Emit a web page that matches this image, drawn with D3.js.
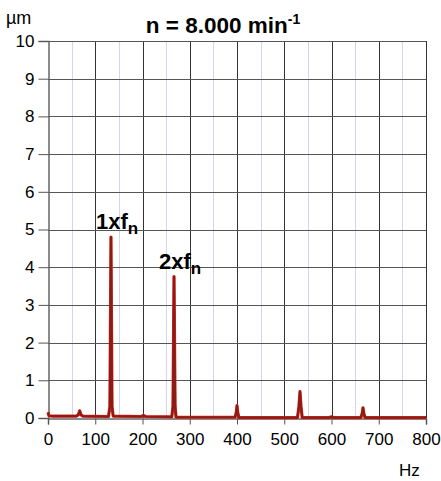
<!DOCTYPE html>
<html>
<head>
<meta charset="utf-8">
<script src="https://cdn.jsdelivr.net/npm/d3@7"></script>
<style>
  body { margin: 0; background: #fff; }
  svg text { font-family: "Liberation Sans", Arial, sans-serif; fill: #000; }
</style>
</head>
<body>
<script>
// Chart size
var width = 441;
var height = 481;

// Data: frequency (Hz) and amplitude (µm)
var freqs = [0, 2, 10, 60, 64, 67, 70, 74, 128, 131, 133.3, 135.5, 138, 198, 202, 206, 262, 264.5, 266.7, 269, 271,
             396, 398.5, 400, 401.5, 404, 528, 531, 533.3, 535.5, 538, 595, 600, 605, 662, 665, 666.7, 668.5, 671, 800];
var amps  = [0.15, 0.06, 0.05, 0.05, 0.08, 0.19, 0.08, 0.05, 0.04, 0.3, 4.8, 0.3, 0.05, 0.04, 0.07, 0.04, 0.03, 0.3, 3.75, 0.3, 0.02,
             0.02, 0.15, 0.33, 0.15, 0.01, 0.01, 0.3, 0.7, 0.3, 0.01, 0.01, 0.03, 0.01, 0.01, 0.12, 0.27, 0.12, 0.01, 0.01];

var xTicks = [0, 100, 200, 300, 400, 500, 600, 700, 800];
var xMinor = [50, 150, 250, 350, 450, 550, 650, 750];
var yTicks = [0, 1, 2, 3, 4, 5, 6, 7, 8, 9, 10];

// Peak labels
var peakNames = ["1xf", "2xf"];
var peakFreqs = [133.3, 266.7];
var peakAmps = [4.8, 3.75];

var margin = {left: 48, right: 15, top: 41, bottom: 63};

var x = d3.scaleLinear().domain([0, 800]).range([margin.left, width - margin.right]);
var y = d3.scaleLinear().domain([0, 10]).range([height - margin.bottom, margin.top]);

var svg = d3.select("body").append("svg")
  .attr("width", width)
  .attr("height", height);

// minor vertical grid
svg.append("g").selectAll("line")
  .data(xMinor).enter().append("line")
  .attr("x1", function (d) { return Math.round(x(d)) + 0.5; })
  .attr("x2", function (d) { return Math.round(x(d)) + 0.5; })
  .attr("y1", y(10)).attr("y2", y(0))
  .attr("stroke", "#d4d4ec").attr("stroke-width", 1);

// major grid
svg.append("g").selectAll("line")
  .data(xTicks.slice(1)).enter().append("line")
  .attr("x1", function (d) { return Math.round(x(d)) + 0.5; })
  .attr("x2", function (d) { return Math.round(x(d)) + 0.5; })
  .attr("y1", y(10)).attr("y2", y(0))
  .attr("stroke", "#333").attr("stroke-width", 1);

svg.append("g").selectAll("line")
  .data(yTicks.slice(1)).enter().append("line")
  .attr("x1", x(0)).attr("x2", x(800))
  .attr("y1", function (d) { return Math.round(y(d)) + 0.5; })
  .attr("y2", function (d) { return Math.round(y(d)) + 0.5; })
  .attr("stroke", "#555").attr("stroke-width", 1);

// axes
var xAxis = svg.append("g")
  .attr("transform", "translate(0," + (Math.round(y(0)) + 0.5) + ")")
  .call(d3.axisBottom(x).tickValues(xTicks).tickSize(6).tickPadding(8).tickFormat(d3.format("d")));
var yAxis = svg.append("g")
  .attr("transform", "translate(" + (Math.round(x(0)) + 0.5) + ",0)")
  .call(d3.axisLeft(y).tickValues(yTicks).tickSize(10).tickPadding(4).tickFormat(d3.format("d")));

[xAxis, yAxis].forEach(function (a) {
  a.select(".domain").attr("stroke", "#666").attr("stroke-width", 1.5);
  a.selectAll(".tick line").attr("stroke", "#555");
  a.selectAll(".tick text").attr("font-size", "17px").attr("fill", "#000")
    .attr("font-family", "Liberation Sans, Arial, sans-serif");
});

// spectrum line
var pts = freqs.map(function (f, i) { return [f, amps[i]]; });
var line = d3.line()
  .x(function (d) { return x(d[0]); })
  .y(function (d) { return y(d[1]); });

svg.append("path").datum(pts)
  .attr("d", line)
  .attr("fill", "none")
  .attr("stroke", "#e02a22")
  .attr("stroke-width", 3.2)
  .attr("stroke-linejoin", "round");
svg.append("path").datum(pts)
  .attr("d", line)
  .attr("fill", "none")
  .attr("stroke", "#8a1c14")
  .attr("stroke-width", 2.2)
  .attr("stroke-linejoin", "round");

// peak labels
peakNames.forEach(function (name, i) {
  var t = svg.append("text")
    .attr("x", x(peakFreqs[i]) - 15)
    .attr("y", y(peakAmps[i]) - 8)
    .attr("font-size", "22px")
    .attr("font-weight", "bold");
  t.append("tspan").text(name);
  t.append("tspan").attr("dy", 5).attr("font-size", "17px").text("n");
});

// title
var title = svg.append("text")
  .attr("x", 223).attr("y", 33)
  .attr("text-anchor", "middle")
  .attr("font-size", "22.5px")
  .attr("font-weight", "bold");
title.append("tspan").text("n = 8.000 min");
title.append("tspan").attr("dy", -9).attr("font-size", "14px").text("-1");

// units
svg.append("text").attr("x", 6).attr("y", 24).attr("font-size", "18px").text("µm");
svg.append("text").attr("x", 399).attr("y", 476).attr("font-size", "17px").text("Hz");
</script>
</body>
</html>
